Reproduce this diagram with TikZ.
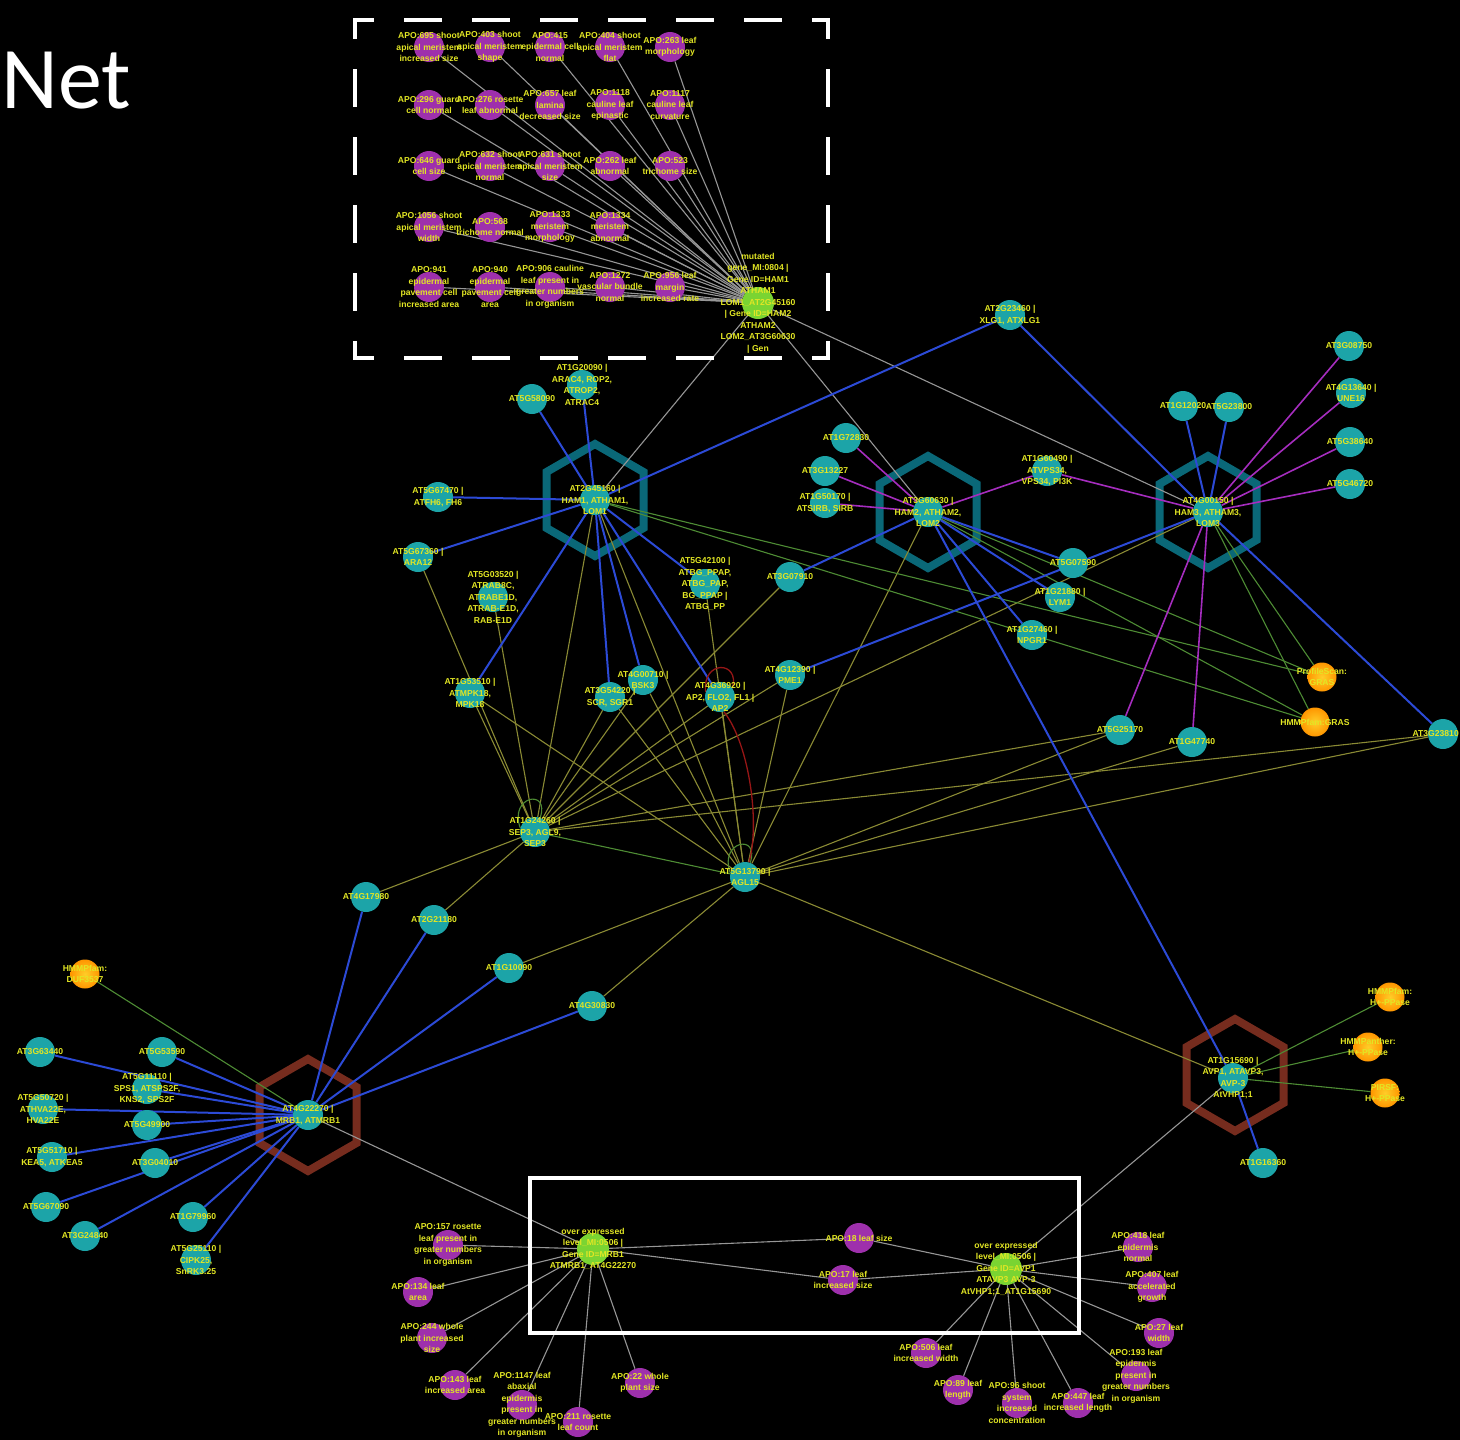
\documentclass[tikz,border=0pt]{standalone}
\usepackage{fontspec}
\setmainfont{Liberation Sans}
\newfontfamily\titlefont{Carlito}
\usetikzlibrary{calc}

\definecolor{tealn}{RGB}{28,164,168}
\definecolor{purpn}{RGB}{158,48,172}
\definecolor{grnn}{RGB}{122,212,50}
\definecolor{orgin}{RGB}{255,205,40}
\definecolor{orgout}{RGB}{255,150,0}
\definecolor{lblc}{RGB}{226,230,36}
\definecolor{hexteal}{RGB}{10,104,120}
\definecolor{hexbrown}{RGB}{118,44,30}
\definecolor{eblue}{RGB}{44,74,214}
\definecolor{eolive}{RGB}{138,138,52}
\definecolor{egreen}{RGB}{78,140,52}
\definecolor{egray}{RGB}{150,150,150}
\definecolor{epurp}{RGB}{165,45,190}
\definecolor{ered}{RGB}{150,22,22}

\pgfdeclarelayer{bglayer}
\pgfdeclarelayer{edgelayer}
\pgfdeclarelayer{txtlayer}
\pgfsetlayers{bglayer,edgelayer,main,txtlayer}

\tikzset{
  tn/.style={circle, fill=tealn, minimum size=30pt, inner sep=0pt},
  pn/.style={circle, fill=purpn, minimum size=30pt, inner sep=0pt},
  gn/.style={circle, fill=grnn, minimum size=32pt, inner sep=0pt},
  orn/.style={circle, inner color=orgin, outer color=orgout, minimum size=29pt, inner sep=0pt},
  lbl/.style={text=lblc, font=\fontsize{8.6}{11.5}\selectfont\bfseries, align=center, inner sep=0pt},
  bE/.style={draw=eblue, line width=2pt},
  pE/.style={draw=epurp, line width=1.6pt},
  oE/.style={draw=eolive, line width=1.1pt},
  gE/.style={draw=egreen, line width=1.1pt},
  wE/.style={draw=egray, line width=1.1pt},
  rE/.style={draw=ered, line width=1.3pt},
  hexT/.style={draw=hexteal, line width=8pt},
  hexB/.style={draw=hexbrown, line width=8pt},
  dbox/.style={draw=white, line width=4pt, dash pattern=on 34pt off 34pt, dash phase=17pt},
  sbox/.style={draw=white, line width=4pt}
}

% node with its centred label on the text layer
\newcommand\nd[5]{\node[#1] (#2) at (#3,#4) {};%
  \begin{pgfonlayer}{txtlayer}\node[lbl] at (#2) {#5};\end{pgfonlayer}}
% pointy-topped hexagon around a hub
\newcommand\hexat[3]{\draw[#3] (#1,#2) ++(90:56pt) -- ++(210:56pt) -- ++(270:56pt)
  -- ++(330:56pt) -- ++(30:56pt) -- ++(90:56pt) -- cycle;}

\begin{document}
\begin{tikzpicture}[x=1pt, y=-1pt]

\begin{pgfonlayer}{bglayer}
\fill[black] (0,0) rectangle (1460,1440);
\hexat{595}{500}{hexT}
\hexat{928}{512}{hexT}
\hexat{1208}{512}{hexT}
\hexat{308}{1115}{hexB}
\hexat{1235}{1075}{hexB}
\end{pgfonlayer}
\useasboundingbox (0,0) rectangle (1460,1440);

\node[anchor=base west, text=white, font=\titlefont\fontsize{88}{90}\selectfont, inner sep=0pt] (nettitle) at (1,108) {Net};

% frames
\draw[dbox, line cap=rect] (355,20) -- (828,20);
\draw[dbox, line cap=rect] (355,358) -- (828,358);
\draw[dbox, line cap=rect] (355,20) -- (355,358);
\draw[dbox, line cap=rect] (828,20) -- (828,358);
\draw[sbox] (530,1178) rectangle (1079,1333);

% ---- phenotypes of HAM mutants
\nd{pn}{a695}{429}{47}{APO:695 shoot\\apical meristem\\increased size}
\nd{pn}{a403}{490}{47}{APO:403 shoot\\apical meristem\\shape}
\nd{pn}{a415}{550}{47}{APO:415\\epidermal cell\\normal}
\nd{pn}{a404}{610}{47}{APO:404 shoot\\apical meristem\\flat}
\nd{pn}{a263}{670}{47}{APO:263 leaf\\morphology}
\nd{pn}{a296}{429}{105}{APO:296 guard\\cell normal}
\nd{pn}{a276}{490}{105}{APO:276 rosette\\leaf abnormal}
\nd{pn}{a657}{550}{105}{APO:657 leaf\\lamina\\decreased size}
\nd{pn}{a1118}{610}{105}{APO:1118\\cauline leaf\\epinastic}
\nd{pn}{a1117}{670}{105}{APO:1117\\cauline leaf\\curvature}
\nd{pn}{a646}{429}{166}{APO:646 guard\\cell size}
\nd{pn}{a632}{490}{166}{APO:632 shoot\\apical meristem\\normal}
\nd{pn}{a631}{550}{166}{APO:631 shoot\\apical meristem\\size}
\nd{pn}{a262}{610}{166}{APO:262 leaf\\abnormal}
\nd{pn}{a523}{670}{166}{APO:523\\trichome size}
\nd{pn}{a1056}{429}{227}{APO:1056 shoot\\apical meristem\\width}
\nd{pn}{a568}{490}{227}{APO:568\\trichome normal}
\nd{pn}{a1333}{550}{227}{APO:1333\\meristem\\morphology}
\nd{pn}{a1334}{610}{227}{APO:1334\\meristem\\abnormal}
\nd{pn}{a941}{429}{287}{APO:941\\epidermal\\pavement cell\\increased area}
\nd{pn}{a940}{490}{287}{APO:940\\epidermal\\pavement cell\\area}
\nd{pn}{a906}{550}{287}{APO:906 cauline\\leaf present in\\greater numbers\\in organism}
\nd{pn}{a1272}{610}{287}{APO:1272\\vascular bundle\\normal}
\nd{pn}{a956}{670}{287}{APO:956 leaf\\margin\\increased rate}
\nd{gn}{gH}{758}{303}{mutated\\gene\_MI:0804 |\\Gene ID=HAM1\\ATHAM1\\LOM1\_AT2G45160\\| Gene ID=HAM2\\ATHAM2\\LOM2\_AT3G60630\\| Gen}

% ---- HAM1 neighbourhood
\nd{tn}{ham1}{595}{500}{AT2G45160 |\\HAM1, ATHAM1,\\LOM1}
\nd{tn}{a5g58090}{532}{399}{AT5G58090}
\nd{tn}{a1g20090}{582}{385}{AT1G20090 |\\ARAC4, ROP2,\\ATROP2,\\ATRAC4}
\nd{tn}{a5g67470}{438}{497}{AT5G67470 |\\ATFH6, FH6}
\nd{tn}{a5g67360}{418}{557}{AT5G67360 |\\ARA12}
\nd{tn}{a5g03520}{493}{597}{AT5G03520 |\\ATRAB8C,\\ATRABE1D,\\ATRAB-E1D,\\RAB-E1D}
\nd{tn}{a1g53510}{470}{693}{AT1G53510 |\\ATMPK18,\\MPK18}
\nd{tn}{a3g54220}{610}{697}{AT3G54220 |\\SCR, SGR1}
\nd{tn}{a4g00710}{643}{680}{AT4G00710 |\\BSK3}
\nd{tn}{a5g42100}{705}{584}{AT5G42100 |\\ATBG\_PPAP,\\ATBG\_PAP,\\BG\_PPAP |\\ATBG\_PP}
\nd{tn}{a3g07910}{790}{577}{AT3G07910}
\nd{tn}{ap2}{720}{697}{AT4G36920 |\\AP2, FLO2, FL1 |\\AP2}
\nd{tn}{a4g12390}{790}{675}{AT4G12390 |\\PME1}

% ---- HAM2 neighbourhood
\nd{tn}{ham2}{928}{512}{AT3G60630 |\\HAM2, ATHAM2,\\LOM2}
\nd{tn}{a2g23460}{1010}{315}{AT2G23460 |\\XLG1, ATXLG1}
\nd{tn}{a1g72830}{846}{438}{AT1G72830}
\nd{tn}{a3g13227}{825}{471}{AT3G13227}
\nd{tn}{a1g50170}{825}{503}{AT1G50170 |\\ATSIRB, SIRB}
\nd{tn}{a1g60490}{1047}{471}{AT1G60490 |\\ATVPS34,\\VPS34, PI3K}
\nd{tn}{a5g07590}{1073}{563}{AT5G07590}
\nd{tn}{a1g21880}{1060}{597}{AT1G21880 |\\LYM1}
\nd{tn}{a1g27460}{1032}{635}{AT1G27460 |\\NPGR1}

% ---- HAM3 neighbourhood
\nd{tn}{ham3}{1208}{512}{AT4G00150 |\\HAM3, ATHAM3,\\LOM3}
\nd{tn}{a1g12020}{1183}{406}{AT1G12020}
\nd{tn}{a5g23800}{1229}{407}{AT5G23800}
\nd{tn}{a3g08750}{1349}{346}{AT3G08750}
\nd{tn}{a4g13640}{1351}{393}{AT4G13640 |\\UNE16}
\nd{tn}{a5g38640}{1350}{442}{AT5G38640}
\nd{tn}{a5g46720}{1350}{484}{AT5G46720}
\nd{orn}{or1}{1322}{677}{ProfileScan:\\GRAS}
\nd{orn}{or2}{1315}{722}{HMMPfam:GRAS}
\nd{tn}{a5g25170}{1120}{730}{AT5G25170}
\nd{tn}{a1g47740}{1192}{742}{AT1G47740}
\node[tn] (a3g23810) at (1443,734) {};
\begin{pgfonlayer}{txtlayer}\node[lbl, anchor=east] at (1459,734) {AT3G23810};\end{pgfonlayer}

% ---- MADS hubs
\nd{tn}{sep3}{535}{832}{AT1G24260 |\\SEP3, AGL9,\\SEP3}
\nd{tn}{agl15}{745}{877}{AT5G13790 |\\AGL15}
\nd{tn}{a4g17980}{366}{897}{AT4G17980}
\nd{tn}{a2g21180}{434}{920}{AT2G21180}
\nd{tn}{a1g10090}{509}{968}{AT1G10090}
\nd{tn}{a4g30830}{592}{1006}{AT4G30830}

% ---- MRB1 neighbourhood
\nd{tn}{mrb1}{308}{1115}{AT4G22270 |\\MRB1, ATMRB1}
\nd{orn}{ordf}{85}{974}{HMMPfam:\\DUF3537}
\nd{tn}{a3g63440}{40}{1052}{AT3G63440}
\nd{tn}{a5g53590}{162}{1052}{AT5G53590}
\nd{tn}{a5g11110}{147}{1089}{AT5G11110 |\\SPS1, ATSPS2F,\\KNS2, SPS2F}
\nd{tn}{a5g50720}{43}{1109}{AT5G50720 |\\ATHVA22E,\\HVA22E}
\nd{tn}{a5g49900}{147}{1125}{AT5G49900}
\nd{tn}{a5g51710}{52}{1157}{AT5G51710 |\\KEA5, ATKEA5}
\nd{tn}{a3g04010}{155}{1163}{AT3G04010}
\nd{tn}{a5g67090}{46}{1207}{AT5G67090}
\nd{tn}{a3g24840}{85}{1236}{AT3G24840}
\nd{tn}{a1g79960}{193}{1217}{AT1G79960}
\nd{tn}{a5g25110}{196}{1260}{AT5G25110 |\\CIPK25,\\SnRK3.25}

% ---- AVP1 neighbourhood
\nd{tn}{avp1}{1233}{1078}{AT1G15690 |\\AVP1, ATAVP3,\\AVP-3\\AtVHP1;1}
\nd{orn}{orA}{1390}{997}{HMMPfam:\\H+-PPase}
\nd{orn}{orB}{1368}{1047}{HMMPanther:\\H+-PPase}
\nd{orn}{orC}{1385}{1093}{PIRSF:\\H+-PPase}
\nd{tn}{a1g16360}{1263}{1163}{AT1G16360}

% ---- phenotypes of over-expression lines
\nd{gn}{gM}{593}{1249}{over expressed\\level\_MI:0506 |\\Gene ID=MRB1\\ATMRB1\_AT4G22270}
\nd{gn}{gA}{1006}{1269}{over expressed\\level\_MI:0506 |\\Gene ID=AVP1\\ATAVP3 AVP-3\\AtVHP1;1\_AT1G15690}
\nd{pn}{a157}{448}{1245}{APO:157 rosette\\leaf present in\\greater numbers\\in organism}
\nd{pn}{a134}{418}{1292}{APO:134 leaf\\area}
\nd{pn}{a244}{432}{1338}{APO:244 whole\\plant increased\\size}
\nd{pn}{a143}{455}{1385}{APO:143 leaf\\increased area}
\nd{pn}{a1147}{522}{1405}{APO:1147 leaf\\abaxial\\epidermis\\present in\\greater numbers\\in organism}
\nd{pn}{a211}{578}{1422}{APO:211 rosette\\leaf count}
\nd{pn}{a22}{640}{1383}{APO:22 whole\\plant size}
\nd{pn}{a18}{859}{1238}{APO:18 leaf size}
\nd{pn}{a17}{843}{1280}{APO:17 leaf\\increased size}
\nd{pn}{a418}{1138}{1247}{APO:418 leaf\\epidermis\\normal}
\nd{pn}{a407}{1152}{1287}{APO:407 leaf\\accelerated\\growth}
\nd{pn}{a27}{1159}{1333}{APO:27 leaf\\width}
\nd{pn}{a193}{1136}{1376}{APO:193 leaf\\epidermis\\present in\\greater numbers\\in organism}
\nd{pn}{a506}{926}{1353}{APO:506 leaf\\increased width}
\nd{pn}{a89}{958}{1390}{APO:89 leaf\\length}
\nd{pn}{a96}{1017}{1403}{APO:96 shoot\\system\\increased\\concentration}
\nd{pn}{a447}{1078}{1403}{APO:447 leaf\\increased length}

% ---- connectors
\begin{pgfonlayer}{edgelayer}
\foreach \t in {a695,a403,a415,a404,a263,a296,a276,a657,a1118,a1117,a646,a632,a631,a262,a523,a1056,a568,a1333,a1334,a941,a940,a906,a1272,a956,ham1,ham2,ham3}
  \draw[wE] (gH) -- (\t);
\foreach \t in {mrb1,a157,a134,a244,a143,a1147,a211,a22,a18,a17}
  \draw[wE] (gM) -- (\t);
\foreach \t in {avp1,a18,a17,a418,a407,a27,a193,a506,a89,a96,a447}
  \draw[wE] (gA) -- (\t);

% co-expression
\foreach \t in {a5g67360,a5g03520,ham1,a1g53510,a3g54220,a4g00710,ap2,a3g07910,a4g12390,ham3,a5g25170,a3g23810,a4g17980,a2g21180}
  \draw[oE] (sep3) -- (\t);
\foreach \t in {ham1,a1g53510,a3g54220,a4g00710,ap2,a5g42100,a4g12390,ham2,a5g25170,a1g47740,a3g23810,a1g10090,a4g30830,avp1}
  \draw[oE] (agl15) -- (\t);

% shared domains
\foreach \h in {ham1,ham2,ham3}
  \foreach \t in {or1,or2}
    \draw[gE] (\h) -- (\t);
\draw[gE] (mrb1) -- (ordf);
\foreach \t in {orA,orB,orC}
  \draw[gE] (avp1) -- (\t);
\draw[gE] (sep3) -- (agl15);
\draw[gE] (sep3.165) .. controls +(-12,-32) and +(10,-30) .. (sep3.70);
\draw[gE] (agl15.165) .. controls +(-12,-32) and +(10,-30) .. (agl15.70);

% protein interactions
\foreach \t in {a5g58090,a1g20090,a5g67470,a5g67360,a1g53510,a3g54220,a4g00710,ap2,a5g42100,a2g23460}
  \draw[bE] (ham1) -- (\t);
\foreach \t in {a3g07910,a5g07590,a1g21880,a1g27460,avp1}
  \draw[bE] (ham2) -- (\t);
\foreach \t in {a1g12020,a5g23800,a2g23460,a4g12390,a3g23810}
  \draw[bE] (ham3) -- (\t);
\draw[bE] (avp1) -- (a1g16360);
\foreach \t in {a3g63440,a5g53590,a5g11110,a5g50720,a5g49900,a5g51710,a3g04010,a5g67090,a3g24840,a1g79960,a5g25110,a4g17980,a2g21180,a1g10090,a4g30830}
  \draw[bE] (mrb1) -- (\t);

% genetic interactions
\foreach \t in {a1g72830,a3g13227,a1g50170,a1g60490}
  \draw[pE] (ham2) -- (\t);
\foreach \t in {a1g60490,a3g08750,a4g13640,a5g38640,a5g46720,a5g25170,a1g47740}
  \draw[pE] (ham3) -- (\t);

% regulation
\draw[rE] (ap2.-75) .. controls (750,745) and (760,825) .. (agl15.75);
\draw[rE] (ap2.160) .. controls +(-4,-32) and +(8,-28) .. (ap2.35);
\end{pgfonlayer}

\end{tikzpicture}
\end{document}
